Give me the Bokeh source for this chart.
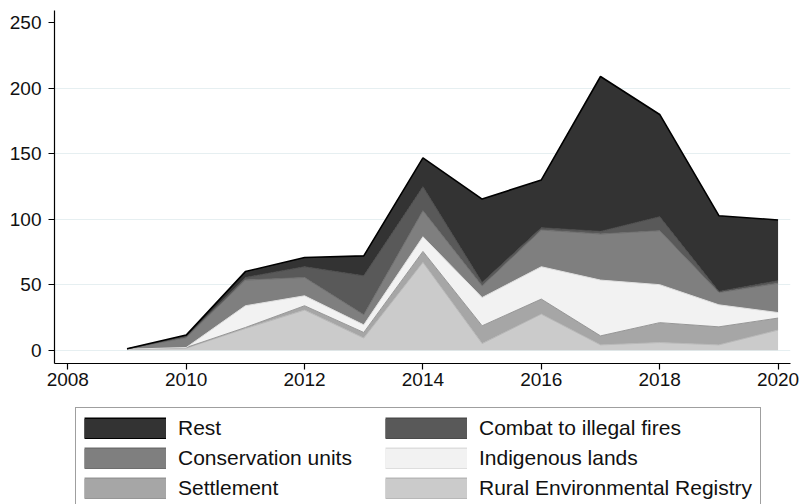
from bokeh.plotting import figure
from bokeh.layouts import column
from bokeh.models import Range1d, FixedTicker, Legend, LegendItem, ColumnDataSource
from bokeh.embed import file_html
from bokeh.resources import INLINE

years = [2009, 2010, 2011, 2012, 2013, 2014, 2015, 2016, 2017, 2018, 2019, 2020]
rural = [0.5, 1.5, 16.5, 30.6, 9.2, 67.0, 5.0, 27.5, 4.0, 5.8, 4.0, 15.3]
settlement = [0.2, 0.5, 0.8, 3.3, 4.3, 8.4, 13.6, 11.5, 6.9, 15.2, 13.8, 9.2]
indigenous = [0.0, 0.0, 16.6, 7.6, 5.8, 11.2, 21.6, 24.7, 42.6, 29.0, 16.8, 4.2]
conservation = [0.3, 7.5, 19.6, 14.0, 7.7, 19.9, 8.8, 28.0, 35.2, 41.2, 9.4, 22.3]
combat = [0.0, 1.0, 2.0, 8.2, 29.8, 18.3, 2.7, 1.8, 2.0, 10.7, 0.8, 2.0]
rest = [0.0, 1.0, 4.5, 7.1, 15.2, 22.0, 63.7, 36.5, 118.3, 78.1, 57.9, 46.4]

x_ticks = [2008, 2010, 2012, 2014, 2016, 2018, 2020]
y_ticks = [0, 50, 100, 150, 200, 250]
grid_ticks = [0, 50, 100, 150, 200]

names = ["rural", "settlement", "indigenous", "conservation", "combat", "rest"]
labels = {"rural": "Rural Environmental Registry", "settlement": "Settlement",
          "indigenous": "Indigenous lands", "conservation": "Conservation units",
          "combat": "Combat to illegal fires", "rest": "Rest"}
fills = ["#cbcbcb", "#a6a6a6", "#f2f2f2", "#7f7f7f", "#595959", "#333333"]
edges = ["#b8b8b8", "#969696", "#dedede", "#6e6e6e", "#4a4a4a", "#000000"]
edge_w = [1, 1, 1, 1, 1, 1.6]

src = ColumnDataSource(dict(year=years, rural=rural, settlement=settlement,
                            indigenous=indigenous, conservation=conservation,
                            combat=combat, rest=rest))

p = figure(width=801, height=400, output_backend="svg", toolbar_location=None,
           x_range=Range1d(2007.775, 2020.21), y_range=Range1d(-10.2, 259.4),
           min_border_left=54, min_border_right=11, min_border_top=10,
           min_border_bottom=37)
p.background_fill_color = "white"
p.border_fill_color = "white"
p.outline_line_color = None

areas = p.varea_stack(stackers=names, x="year", source=src, color=fills)
lines = p.vline_stack(stackers=names, x="year", source=src, color=edges)
for ln, w in zip(lines, edge_w):
    ln.glyph.line_width = w

p.xaxis.ticker = FixedTicker(ticks=x_ticks)
p.yaxis.ticker = FixedTicker(ticks=y_ticks)
for ax in (p.xaxis[0], p.yaxis[0]):
    ax.axis_label = None
    ax.axis_line_color = "black"
    ax.axis_line_width = 1.2
    ax.major_tick_line_color = "black"
    ax.major_tick_line_width = 1.2
    ax.major_tick_out = 6
    ax.major_tick_in = 0
    ax.minor_tick_line_color = None
    ax.major_label_text_font = "Liberation Sans"
    ax.major_label_text_font_size = "19px"
    ax.major_label_text_color = "#111111"
p.yaxis.major_label_standoff = 7
p.xaxis.major_label_standoff = 3

p.xgrid.grid_line_color = None
p.ygrid.ticker = FixedTicker(ticks=grid_ticks)
p.ygrid.grid_line_color = "#e6eff1"
p.ygrid.grid_line_width = 1.2

# legend panel: a separate blank figure below the chart (same side borders,
# so the column layout keeps the chart frame where it is)
q = figure(width=801, height=104, output_backend="svg", toolbar_location=None,
           x_range=Range1d(0, 1), y_range=Range1d(0, 1),
           min_border_left=54, min_border_right=11, min_border_top=0,
           min_border_bottom=0)
q.axis.visible = False
q.grid.visible = False
q.outline_line_color = None
q.background_fill_color = "white"
q.border_fill_color = "white"

# swatch-only renderers (thick line = full-size swatch), outside the visible range
swatch = {}
for n, f, e in zip(names, fills, edges):
    outer = q.line(x=[5, 6], y=[5, 5], line_color=e, line_width=22,
                   line_cap="butt")
    inner = q.line(x=[5, 6], y=[5, 5], line_color=f, line_width=19,
                   line_cap="butt")
    swatch[n] = [outer, inner]

order = ["rest", "conservation", "settlement", "combat", "indigenous", "rural"]
items = [LegendItem(label=labels[n], renderers=swatch[n]) for n in order]
legend = Legend(items=items, location=(21, -5), ncols=2,
                glyph_width=82, glyph_height=22, label_standoff=12,
                label_width=201, label_height=22, spacing=6, padding=8,
                label_text_font="Liberation Sans", label_text_font_size="21px",
                label_text_color="#111111",
                border_line_color="#3f3f3f", border_line_width=1,
                background_fill_color="white", background_fill_alpha=1)
q.add_layout(legend, "center")

open("out.html", "w").write(file_html(column(p, q, spacing=0), INLINE))
